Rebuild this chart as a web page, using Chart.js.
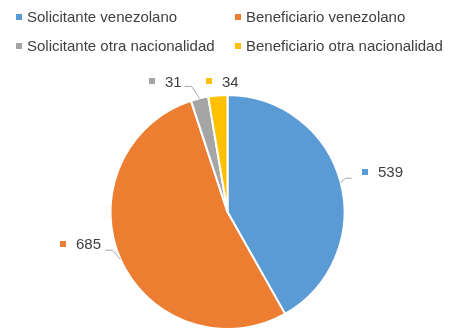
<!DOCTYPE html>
<html>
<head>
<meta charset="utf-8">
<script src="https://cdn.jsdelivr.net/npm/chart.js@4"></script>
<style>
  body { margin: 0; background: #fff; }
  #wrap { position: relative; width: 455px; height: 335px; font-family: "Liberation Sans", Arial, sans-serif; }
  #chart { position: absolute; left: 0; top: 0; }
  .leg { position: absolute; font-size: 15px; line-height: 15px; color: #404040; white-space: nowrap; }
  .leg i { display: inline-block; width: 6px; height: 6px; margin-right: 5px; vertical-align: 2px; }
</style>
</head>
<body>
<div id="wrap">
  <canvas id="chart" width="455" height="335"></canvas>
  <div id="legend"></div>
</div>
<script>
const categories = ['Solicitante venezolano', 'Beneficiario venezolano', 'Solicitante otra nacionalidad', 'Beneficiario otra nacionalidad'];
const values = [539, 685, 31, 34];
const colors = ['#5B9BD5', '#ED7D31', '#A5A5A5', '#FFC000'];

// label placement relative to the slice edge point (mx = marker left, cy = text middle)
const labelLayout = [
    { mx: 21, cy: -10, leader: [[5, -4], [11, -4]] },
    { mx: -60, cy: -15, leader: [[-8, -9], [-15, -9]] },
    { mx: -51, cy: -17, leader: [[-8, -12], [-15, -12]] },
    { mx: -12, cy: -14, leader: null }
];

// legend, 2 columns
const legendPos = [[16, 9], [235, 9], [16, 38], [235, 38]];
const legendDiv = document.getElementById('legend');
categories.forEach((name, i) => {
    const d = document.createElement('div');
    d.className = 'leg';
    d.style.left = legendPos[i][0] + 'px';
    d.style.top = legendPos[i][1] + 'px';
    d.innerHTML = `<i style="background:${colors[i]}"></i>${name}`;
    legendDiv.appendChild(d);
});

const outsideLabels = {
    id: 'outsideLabels',
    afterDraw(chart) {
        const ctx = chart.ctx;
        const meta = chart.getDatasetMeta(0);
        ctx.save();
        ctx.font = '15px "Liberation Sans", Arial, sans-serif';
        ctx.textBaseline = 'middle';
        ctx.textAlign = 'left';
        meta.data.forEach((arc, i) => {
            const p = arc.getProps(['x', 'y', 'startAngle', 'endAngle', 'outerRadius'], true);
            const mid = (p.startAngle + p.endAngle) / 2;
            const ex = p.x + Math.cos(mid) * p.outerRadius;
            const ey = p.y + Math.sin(mid) * p.outerRadius;
            const lay = labelLayout[i];

            if (lay.leader) {
                ctx.strokeStyle = '#A6A6A6';
                ctx.lineWidth = 1;
                ctx.beginPath();
                ctx.moveTo(ex, ey);
                lay.leader.forEach(pt => ctx.lineTo(ex + pt[0], ey + pt[1]));
                ctx.stroke();
            }

            const mx = Math.round(ex + lay.mx);
            const cy = ey + lay.cy;
            ctx.fillStyle = colors[i];
            ctx.fillRect(mx, Math.round(cy - 3), 6, 6);
            ctx.fillStyle = '#404040';
            ctx.fillText(String(values[i]), mx + 16, cy + 1);
        });
        ctx.restore();
    }
};

new Chart(document.getElementById('chart'), {
    type: 'pie',
    data: {
        labels: categories,
        datasets: [{
            data: values,
            backgroundColor: colors,
            borderColor: '#ffffff',
            borderWidth: 2,
            radius: 117
        }]
    },
    options: {
        responsive: false,
        animation: false,
        layout: { padding: { top: 94, bottom: 5, left: 0, right: 0 } },
        plugins: {
            legend: { display: false },
            tooltip: { enabled: false }
        }
    },
    plugins: [outsideLabels]
});
</script>
</body>
</html>
